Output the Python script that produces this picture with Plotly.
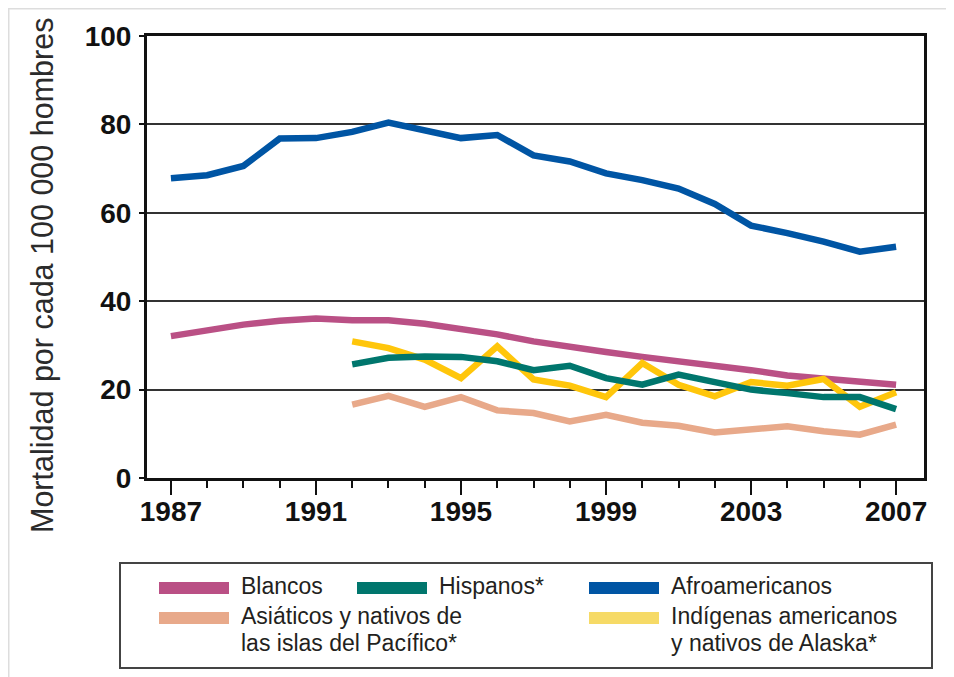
import plotly.graph_objects as go

# ---- data ----
years_all = list(range(1987, 2008))
years_sub = list(range(1992, 2008))

afroamericanos = [67.8, 68.5, 70.6, 76.8, 76.9, 78.3, 80.4, 78.5, 76.9, 77.6, 73.0,
                  71.6, 68.9, 67.4, 65.5, 62.0, 57.1, 55.4, 53.5, 51.2, 52.3]
blancos = [32.1, 33.4, 34.7, 35.6, 36.1, 35.7, 35.7, 34.9, 33.7, 32.5, 30.9,
           29.6, 28.5, 27.4, 26.4, 25.7, 24.4, 23.2, 22.4, 21.7, 21.1]
hispanos = [25.7, 27.2, 27.5, 27.4, 26.4, 24.4, 25.4, 22.6, 21.1, 23.4, 21.7,
            20.0, 19.2, 18.3, 18.3, 15.6]
indigenas = [30.9, 29.4, 26.8, 22.6, 29.8, 22.3, 20.9, 18.3, 26.0, 21.1, 18.5,
             21.7, 20.9, 22.4, 16.1, 19.4]
asiaticos = [16.6, 18.6, 16.1, 18.3, 15.3, 14.7, 12.8, 14.3, 12.5, 11.8, 10.3,
             11.1, 11.7, 10.6, 9.8, 12.1]

x_tick_vals = [1987, 1991, 1995, 1999, 2003, 2007]
y_tick_vals = [0, 20, 40, 60, 80, 100]
y_title = "Mortalidad por cada 100 000 hombres"

# ---- styles ----
C_BLA = "#BA5085"
C_HIS = "#00766D"
C_AFR = "#0055A4"
C_ASI = "#E8A98A"
C_IND = "#FFC60B"
C_IND_LEG = "#F6DA66"

OFF = 8  # page body margin in the browser
W, H = 954 - OFF, 677 - OFF
# plot area in reference-page pixels
L, R, T, B = 147, 924, 36, 478


def px(x):
    return (x - L) / (R - L)


def py(y):
    return (B - y) / (B - T)


fig = go.Figure()
LW = 6.5
fig.add_trace(go.Scatter(x=years_all, y=blancos, mode="lines", line=dict(color=C_BLA, width=LW), name="Blancos"))
fig.add_trace(go.Scatter(x=years_sub, y=asiaticos, mode="lines", line=dict(color=C_ASI, width=LW), name="Asiáticos"))
fig.add_trace(go.Scatter(x=years_sub, y=indigenas, mode="lines", line=dict(color=C_IND, width=LW), name="Indígenas"))
fig.add_trace(go.Scatter(x=years_sub, y=hispanos, mode="lines", line=dict(color=C_HIS, width=LW), name="Hispanos"))
fig.add_trace(go.Scatter(x=years_all, y=afroamericanos, mode="lines", line=dict(color=C_AFR, width=LW), name="Afroamericanos"))

tickfont = dict(family="Liberation Sans", size=28, color="#111111", weight="bold")

fig.update_layout(
    width=W, height=H,
    margin=dict(l=L - OFF, r=954 - R, t=T - OFF, b=677 - B, pad=0),
    paper_bgcolor="white", plot_bgcolor="white",
    showlegend=False,
    xaxis=dict(
        range=[1986.34, 2007.77], tickmode="array", tickvals=x_tick_vals,
        ticks="outside", ticklen=14, tickwidth=2, tickcolor="#111",
        minor=dict(tickmode="linear", tick0=1987, dtick=1, ticks="outside", ticklen=7,
                   tickwidth=2, tickcolor="#111", showgrid=False),
        showline=True, linecolor="#111", linewidth=3, mirror=True,
        showgrid=False, zeroline=False, tickfont=tickfont, ticklabelstandoff=-8,
    ),
    yaxis=dict(
        range=[0, 100], tickmode="array", tickvals=y_tick_vals,
        ticks="outside", ticklen=5, tickwidth=1.5, tickcolor="#111",
        showline=True, linecolor="#111", linewidth=3, mirror=True,
        showgrid=True, gridcolor="#333333", gridwidth=1.5, zeroline=False,
        tickfont=tickfont, ticklabelstandoff=2,
    ),
)

shapes = []
annotations = []

# y-axis title
annotations.append(dict(
    text=y_title, xref="paper", yref="paper", x=px(42), y=py(276),
    xanchor="center", yanchor="middle", textangle=-90, showarrow=False,
    font=dict(family="Liberation Sans", size=30.5, color="#2b2b2b"),
))

# outer light frame (top and left)
shapes.append(dict(type="line", xref="paper", yref="paper", x0=px(8), x1=px(970), y0=py(8.5), y1=py(8.5),
                   line=dict(color="#dddddd", width=2)))
shapes.append(dict(type="line", xref="paper", yref="paper", x0=px(8.5), x1=px(8.5), y0=py(8), y1=py(700),
                   line=dict(color="#dddddd", width=2)))

# legend box
shapes.append(dict(type="rect", xref="paper", yref="paper", x0=px(120), x1=px(932), y0=py(563), y1=py(668),
                   line=dict(color="#444444", width=2), fillcolor="white"))

legend_items = [
    (C_BLA, 159, 582, ["Blancos"]),
    (C_HIS, 357, 582, ["Hispanos*"]),
    (C_AFR, 589, 582, ["Afroamericanos"]),
    (C_ASI, 159, 612, ["Asiáticos y nativos de", "las islas del Pacífico*"]),
    (C_IND_LEG, 589, 612, ["Indígenas americanos", "y nativos de Alaska*"]),
]
leg_font = dict(family="Liberation Sans", size=23, color="#231F20")
for color, sx, sy, lines in legend_items:
    shapes.append(dict(type="rect", xref="paper", yref="paper", x0=px(sx), x1=px(sx + 70),
                       y0=py(sy), y1=py(sy + 12), line=dict(width=0), fillcolor=color))
    for i, t in enumerate(lines):
        annotations.append(dict(
            text=t, xref="paper", yref="paper", x=px(sx + 80), y=py(sy + 4 + 27 * i),
            xanchor="left", yanchor="middle", showarrow=False, font=leg_font,
        ))

fig.update_layout(shapes=shapes, annotations=annotations)

fig.write_html("out.html")
